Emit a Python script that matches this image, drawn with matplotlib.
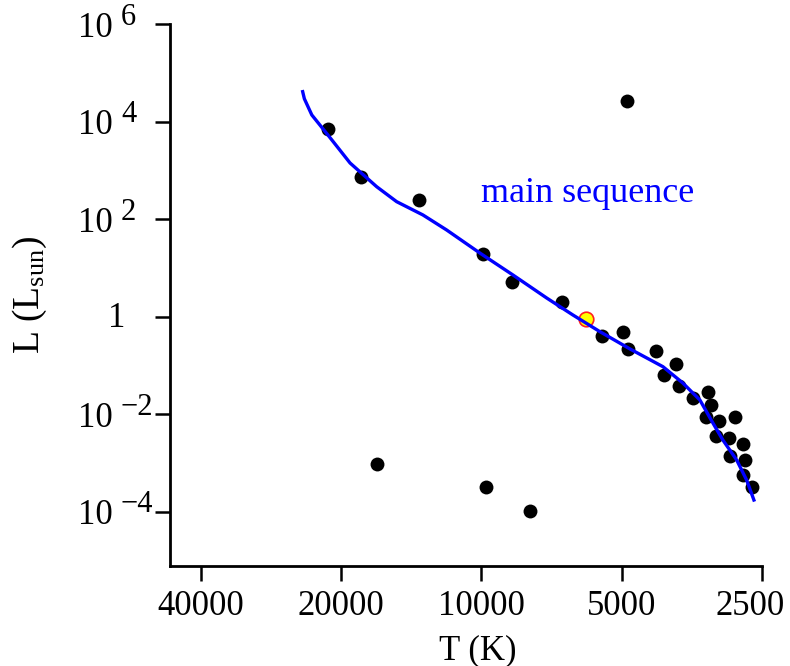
import matplotlib
matplotlib.use('Agg')
import matplotlib.pyplot as plt
import matplotlib.transforms as mtransforms

plt.rcParams['font.family'] = ['Liberation Serif', 'DejaVu Serif']
plt.rcParams['mathtext.fontset'] = 'custom'
plt.rcParams['mathtext.rm'] = 'Liberation Serif'
plt.rcParams['mathtext.it'] = 'Liberation Serif:italic'

# ---- data ----
star_T = [21300, 18150, 13600, 9910, 8600, 6720, 4880, 5515, 4980, 4840,
          4230, 3820, 4060, 3765, 3520, 3260, 3210, 3290, 3090, 2860,
          3140, 2940, 2745, 2930, 2725, 2745, 2630, 16760, 9780, 7880]
star_L = [7200, 745, 251, 19.9, 5.15, 2.06, 26600, 0.414, 0.485, 0.217,
          0.201, 0.107, 0.066, 0.038, 0.0221, 0.0294, 0.0157, 0.0089, 0.0075, 0.0090,
          0.0036, 0.0033, 0.00244, 0.00143, 0.00115, 0.00058, 0.00032, 0.00095, 0.00033, 0.000105]

sun_T = [5980]
sun_L = [0.91]

ms_T = [24200, 24000, 23130, 21360, 19150, 16790, 15210, 13360, 11880, 10080, 8560, 7245,
        6366, 5570, 4801, 4079, 3698, 3398, 3187, 3034, 2834, 2698, 2602]
ms_L = [41900, 30000, 13930, 5410, 1443, 471, 232, 124, 60.9, 20.5, 7.27, 2.45,
        1.10, 0.50, 0.221, 0.0956, 0.0443, 0.0198, 0.0067, 0.0030, 0.00117, 0.000454, 0.000176]

x_ticks = [40000, 20000, 10000, 5000, 2500]
x_tick_labels = ['40000', '20000', '10000', '5000', '2500']
y_ticks = [1e6, 1e4, 1e2, 1, 1e-2, 1e-4]
y_tick_exponents = ['6', '4', '2', '', '\u22122', '\u22124']

label_text = 'main sequence'
label_T = 10030
label_L = 228

# ---- figure ----
fig = plt.figure(figsize=(7.9, 6.66), dpi=100)
ax = fig.add_axes([170/790, 1-566/666, (762-170)/790, (566-24)/666])
ax.set_xscale('log')
ax.set_yscale('log')
ax.set_xlim(46620, 2500)
ax.set_ylim(10**-5.108, 10**6.01)

ax.plot(ms_T, ms_L, color='#0000ff', lw=2.4, zorder=3)
ax.scatter(star_T, star_L, s=100, c='black', linewidths=0, zorder=2)
ax.scatter(sun_T, sun_L, s=110, facecolor='#ffff00', edgecolor='#ff2020', linewidths=1.2, zorder=2)

ax.text(label_T, label_L, label_text, color='#0000ff', fontsize=26, ha='left', va='baseline')

for s in ['top', 'right']:
    ax.spines[s].set_visible(False)
for s in ['left', 'bottom']:
    ax.spines[s].set_linewidth(2)

ax.minorticks_off()
ax.set_xticks(x_ticks)
ax.set_xticklabels(x_tick_labels)
ax.set_yticks(y_ticks)
ax.set_yticklabels([])
ax.tick_params(axis='both', which='major', direction='out', length=11, width=1.8)
ax.tick_params(axis='x', labelsize=25, pad=6)
ax.tick_params(which='minor', length=0)

# shift the last x tick label left so it stays inside the figure, like the reference
last = ax.get_xticklabels()[-1]
last.set_transform(last.get_transform() + mtransforms.ScaledTranslation(-12/100, 0, fig.dpi_scale_trans))

trans = mtransforms.blended_transform_factory(ax.transAxes, ax.transData)
for v, e in zip(y_ticks, y_tick_exponents):
    if e == '':
        ax.annotate('1', xy=(0, v), xycoords=trans, xytext=(-53, -2),
                    textcoords='offset pixels', ha='center', va='center', fontsize=25)
    else:
        ax.annotate('10', xy=(0, v), xycoords=trans, xytext=(-57, -4),
                    textcoords='offset pixels', ha='right', va='center', fontsize=25)
        ax.annotate(e, xy=(0, v), xycoords=trans, xytext=(-49, 7),
                    textcoords='offset pixels', ha='left', va='center', fontsize=22)

ax.set_xlabel('T (K)', fontsize=25)
ax.xaxis.set_label_coords((478-170)/592, (566-634)/542)
ax.set_ylabel(r'L (L$_{\mathrm{sun}}$)', fontsize=27)
ax.yaxis.set_label_coords((49-170)/592, 0.5)

fig.savefig('out.png', dpi=100)
